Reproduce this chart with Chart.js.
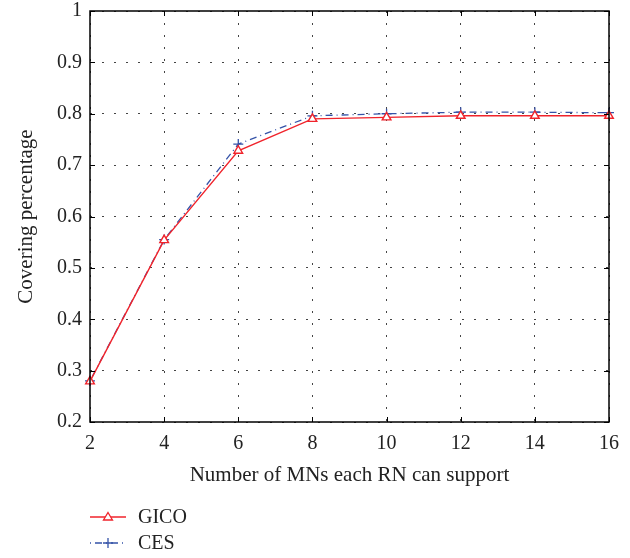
<!DOCTYPE html>
<html>
<head>
<meta charset="utf-8">
<title>Covering percentage</title>
<script src="https://cdn.jsdelivr.net/npm/chart.js@4.4.1/dist/chart.umd.min.js"></script>
<style>
    html, body { margin: 0; padding: 0; background: #fff; }
    #wrap { width: 630px; height: 558px; position: relative; }
</style>
</head>
<body>
<div id="wrap"><canvas id="coverChart"></canvas></div>
<script>
// Datos de la figura
const mnPerRn = [2, 4, 6, 8, 10, 12, 14, 16];
const gicoValues = [0.279, 0.554, 0.728, 0.790, 0.793, 0.796, 0.796, 0.796];
const cesValues = [0.280, 0.555, 0.741, 0.796, 0.800, 0.803, 0.803, 0.802];
const yTicks = [0.2, 0.3, 0.4, 0.5, 0.6, 0.7, 0.8, 0.9, 1];

const FONT = "'Liberation Serif', 'DejaVu Serif', serif";
const RED = '#f0232b';
const BLUE = '#3553a8';

// Marco completo, marcas internas de los ejes y leyenda debajo del gráfico
const boxPlugin = {
    id: 'boxPlugin',
    afterDraw(chart) {
        const ctx = chart.ctx;
        const a = chart.chartArea;
        const xs = chart.scales.x;
        const ys = chart.scales.y;
        ctx.save();
        ctx.strokeStyle = '#000';
        ctx.lineWidth = 1.5;
        ctx.strokeRect(a.left, a.top, a.right - a.left, a.bottom - a.top);

        ctx.lineWidth = 1;
        mnPerRn.forEach(v => {
            const px = Math.round(xs.getPixelForValue(v)) + 0.5;
            ctx.beginPath();
            ctx.moveTo(px, a.bottom); ctx.lineTo(px, a.bottom - 5);
            ctx.moveTo(px, a.top); ctx.lineTo(px, a.top + 5);
            ctx.stroke();
        });
        yTicks.forEach(v => {
            const py = Math.round(ys.getPixelForValue(v)) + 0.5;
            ctx.beginPath();
            ctx.moveTo(a.left, py); ctx.lineTo(a.left + 5, py);
            ctx.moveTo(a.right, py); ctx.lineTo(a.right - 5, py);
            ctx.stroke();
        });

        // Leyenda
        const entries = [
            { label: 'GICO', color: RED, dash: [], marker: 'triangle', y: 517 },
            { label: 'CES', color: BLUE, dash: [1, 4, 7, 4], marker: 'cross', y: 543 }
        ];
        entries.forEach(e => {
            ctx.strokeStyle = e.color;
            ctx.lineWidth = 1.3;
            ctx.setLineDash(e.dash);
            ctx.beginPath();
            ctx.moveTo(90, e.y); ctx.lineTo(126, e.y);
            ctx.stroke();
            ctx.setLineDash([]);
            ctx.beginPath();
            if (e.marker === 'triangle') {
                ctx.moveTo(108, e.y - 4.5);
                ctx.lineTo(112.5, e.y + 3);
                ctx.lineTo(103.5, e.y + 3);
                ctx.closePath();
                ctx.fillStyle = '#fff';
                ctx.fill();
            } else {
                ctx.moveTo(108, e.y - 5); ctx.lineTo(108, e.y + 5);
                ctx.moveTo(103, e.y); ctx.lineTo(113, e.y);
            }
            ctx.stroke();
            ctx.fillStyle = '#222';
            ctx.font = '20px ' + FONT;
            ctx.textBaseline = 'middle';
            ctx.fillText(e.label, 138, e.y + 1);
        });
        ctx.restore();
    }
};

new Chart(document.getElementById('coverChart').getContext('2d'), {
    type: 'line',
    data: {
        datasets: [{
            label: 'GICO',
            data: mnPerRn.map((x, i) => ({ x: x, y: gicoValues[i] })),
            borderColor: RED,
            backgroundColor: '#fff',
            borderWidth: 1.4,
            pointStyle: 'triangle',
            pointRadius: 5,
            pointBorderWidth: 1.4,
            pointBorderColor: RED,
            tension: 0
        }, {
            label: 'CES',
            data: mnPerRn.map((x, i) => ({ x: x, y: cesValues[i] })),
            borderColor: BLUE,
            backgroundColor: BLUE,
            borderWidth: 1.3,
            borderDash: [1, 4, 7, 4],
            pointStyle: 'cross',
            pointRadius: 5,
            pointBorderWidth: 1.3,
            pointBorderColor: BLUE,
            tension: 0
        }]
    },
    options: {
        responsive: true,
        maintainAspectRatio: false,
        animation: false,
        clip: false,
        layout: { padding: { left: 6, right: 21, top: 11, bottom: 70 } },
        plugins: {
            legend: { display: false },
            tooltip: { enabled: false }
        },
        scales: {
            x: {
                type: 'linear',
                min: 2,
                max: 16,
                afterBuildTicks: scale => {
                    scale.ticks = mnPerRn.map(v => ({ value: v }));
                },
                afterFit: scale => { scale.height = 66; },
                grid: { color: '#444', lineWidth: 1, drawTicks: false },
                border: { display: false, dash: [2, 10] },
                ticks: {
                    color: '#222',
                    padding: 10,
                    maxRotation: 0,
                    font: { family: FONT, size: 20 }
                },
                title: {
                    display: true,
                    text: 'Number of MNs each RN can support',
                    color: '#222',
                    padding: { top: 4, bottom: 0 },
                    font: { family: FONT, size: 21 }
                }
            },
            y: {
                type: 'linear',
                min: 0.2,
                max: 1,
                afterBuildTicks: scale => {
                    scale.ticks = yTicks.map(v => ({ value: v }));
                },
                afterFit: scale => {
                    scale.width = 84;
                    scale.paddingTop = 0;
                    scale.paddingBottom = 0;
                },
                grid: { color: '#444', lineWidth: 1, drawTicks: false },
                border: { display: false, dash: [2, 10] },
                ticks: {
                    color: '#222',
                    padding: 8,
                    font: { family: FONT, size: 20 },
                    callback: v => String(Math.round(v * 10) / 10)
                },
                title: {
                    display: true,
                    text: 'Covering percentage',
                    color: '#222',
                    padding: { top: 8, bottom: 4 },
                    font: { family: FONT, size: 21 }
                }
            }
        }
    },
    plugins: [boxPlugin]
});
</script>
</body>
</html>
